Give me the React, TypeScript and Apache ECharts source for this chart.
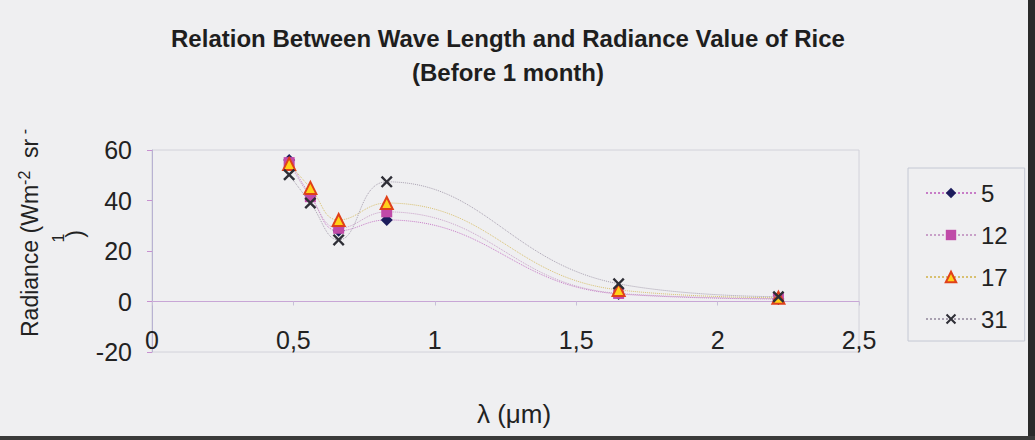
import React, { useEffect, useRef } from "react";
import * as echarts from "echarts";

const wavelengths = [0.485, 0.56, 0.66, 0.83, 1.65, 2.215];
const seriesNames = ["5", "12", "17", "31"];
const radiance5 = [56, 42, 28, 32.3, 3, 1];
const radiance12 = [55, 41.5, 29, 35.5, 3.2, 1.2];
const radiance17 = [54.5, 45, 32.3, 39, 4.6, 1.5];
const radiance31 = [50.2, 39, 24.4, 47.4, 7, 1.9];
const xTicks = [0, 0.5, 1, 1.5, 2, 2.5];
const yTicks = [-20, 0, 20, 40, 60];

const X_PATH = "path://M0,1.4L1.4,0L5,3.6L8.6,0L10,1.4L6.4,5L10,8.6L8.6,10L5,6.4L1.4,10L0,8.6L3.6,5Z";

export default function App() {
  const ref = useRef<HTMLDivElement>(null);
  useEffect(() => {
    document.body.style.margin = "0";
    const chart = echarts.init(ref.current!, null, { renderer: "svg" });
    const pairs = (v: number[]) => wavelengths.map((w, i) => [w, v[i]]);
    const font = "Liberation Sans, Arial, sans-serif";
    const mk = (name: string, vals: number[], symbol: string, size: number, itemStyle: any, lineColor: string, z: number) => ({
      name,
      type: "line",
      data: pairs(vals),
      smooth: 0.45,
      symbol,
      symbolSize: size,
      itemStyle,
      lineStyle: { color: lineColor, width: 1, type: "dotted" },
      z,
    });
    chart.setOption({
      animation: false,
      backgroundColor: "#efeff1",
      textStyle: { fontFamily: font },
      title: {
        text: "Relation Between Wave Length and Radiance Value of Rice\n(Before 1 month)",
        left: 503,
        top: 16,
        textAlign: "center",
        textStyle: { fontFamily: font, fontWeight: "bold", fontSize: 24, color: "#1e1e1e", lineHeight: 34 },
      },
      grid: {
        left: 152,
        right: 176,
        top: 150,
        bottom: 88,
        show: true,
        borderColor: "#d2d2da",
        borderWidth: 1,
        backgroundColor: "transparent",
      },
      legend: {
        orient: "vertical",
        left: 908,
        top: 168,
        padding: [13, 17, 10, 17],
        itemGap: 18,
        itemWidth: 50,
        itemHeight: 13,
        borderColor: "#c4c8d4",
        borderWidth: 1,
        data: seriesNames,
        textStyle: { fontSize: 24, color: "#222", fontFamily: font },
      },
      xAxis: {
        type: "value",
        min: 0,
        max: 2.5,
        interval: 0.5,
        axisLine: { onZero: true, lineStyle: { color: "#c8a6d6", width: 1 } },
        axisTick: { show: true, length: 4, lineStyle: { color: "#c8c0d8" } },
        axisLabel: {
          margin: -25,
          fontSize: 25,
          color: "#222",
          fontFamily: font,
          formatter: (v: number) => (xTicks.includes(v) ? String(v).replace(".", ",") : ""),
        },
        splitLine: { show: false },
      },
      yAxis: {
        type: "value",
        min: -20,
        max: 60,
        interval: 20,
        axisLine: { show: true, onZero: false, lineStyle: { color: "#b8b2d2", width: 1 } },
        axisTick: { show: true, length: 5, lineStyle: { color: "#c890d0" } },
        axisLabel: {
          margin: 20,
          fontSize: 25,
          color: "#222",
          fontFamily: font,
          formatter: (v: number) => (yTicks.includes(v) ? String(v) : ""),
        },
        splitLine: { show: false },
      },
      graphic: [
        {
          type: "text",
          x: 30,
          y: 233,
          rotation: Math.PI / 2,
          style: {
            text: "Radiance (Wm{s|-2}  sr{s| -}",
            font: `23px ${font}`,
            fill: "#222",
            align: "center",
            verticalAlign: "middle",
            rich: { s: { fontSize: 16, fontFamily: font, fill: "#222", verticalAlign: "top", padding: [0, 0, 12, 0] } },
          },
        },
        {
          type: "text",
          x: 58,
          y: 238,
          rotation: Math.PI / 2,
          style: { text: "1", font: `16px ${font}`, fill: "#222", align: "center", verticalAlign: "middle" },
        },
        {
          type: "text",
          x: 75,
          y: 234,
          rotation: Math.PI / 2,
          style: { text: ")", font: `23px ${font}`, fill: "#222", align: "center", verticalAlign: "middle" },
        },
        {
          type: "text",
          x: 514,
          y: 414,
          style: { text: "λ (μm)", font: `26px ${font}`, fill: "#222", align: "center", verticalAlign: "middle" },
        },
        { type: "rect", shape: { x: 1028, y: 0, width: 7, height: 440 }, style: { fill: "#2a2a2a" } },
        { type: "rect", shape: { x: 0, y: 436, width: 1035, height: 4 }, style: { fill: "#3a3a3a" } },
      ],
      series: [
        mk("5", radiance5, "diamond", 12, { color: "#1c1c5c" }, "#c77cc7", 2),
        mk("12", radiance12, "rect", 11, { color: "#c04aa8" }, "#c8a0c8", 3),
        mk("17", radiance17, "triangle", 12, { color: "#ffd21a", borderColor: "#e0401a", borderWidth: 2 }, "#d8c070", 4),
        mk("31", radiance31, X_PATH, 12, { color: "#2e2e36" }, "#a8a0b0", 5),
      ],
    });
    return () => chart.dispose();
  }, []);
  return <div ref={ref} style={{ width: 1035, height: 440 }} />;
}
